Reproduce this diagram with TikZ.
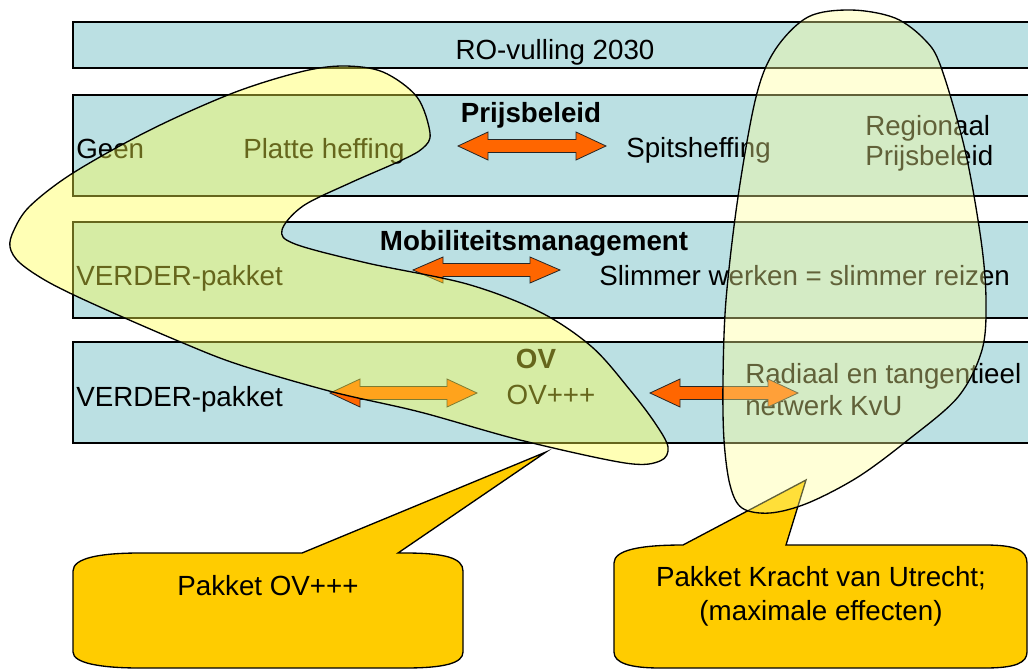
\documentclass[tikz,border=0pt]{standalone}
\usepackage{fontspec}
\setmainfont{Liberation Sans}
\definecolor{bandc}{RGB}{187,224,227}
\definecolor{arroworange}{RGB}{255,102,0}
\definecolor{calloutc}{RGB}{255,204,0}
\definecolor{blobc}{RGB}{255,255,70}
\definecolor{blobpale}{RGB}{255,255,150}
\tikzset{
 bandbox/.style={draw=black, line width=0.9pt, fill=bandc},
 lbl/.style={inner sep=0pt, font=\fontsize{20.8}{25}\selectfont},
 blbl/.style={inner sep=0pt, font=\fontsize{20.8}{25}\selectfont\bfseries},
 blockarr/.style={draw=black!85, line width=0.6pt, fill=arroworange, line join=miter},
 blobshape/.style={draw=black, line width=1pt, fill=blobc, fill opacity=0.4},
 blobshapepale/.style={draw=black, line width=1pt, fill=blobpale, fill opacity=0.38},
 calloutshape/.style={draw=black, line width=1pt, fill=calloutc, line join=miter}
}
\newcommand\dblarr[4]{%
 \draw[blockarr] (#1,#3) -- (#1+30,#3-#4) -- (#1+30,#3-6.5) -- (#2-30,#3-6.5) -- (#2-30,#3-#4) -- (#2,#3) -- (#2-30,#3+#4) -- (#2-30,#3+6.5) -- (#1+30,#3+6.5) -- (#1+30,#3+#4) -- cycle;}
\begin{document}
\begin{tikzpicture}[x=0.75pt,y=-0.75pt]
\useasboundingbox (0,0) rectangle (1028,668);
\clip (0,0) rectangle (1028,668);
\fill[white] (0,0) rectangle (1028,668);

% bands
\draw[bandbox] (73,22) rectangle (1040,68);
\draw[bandbox] (73,95) rectangle (1040,196);
\draw[bandbox] (73,222) rectangle (1040,318);
\draw[bandbox] (73,342) rectangle (1040,443);

% texts
\node[lbl, anchor=base] (ro) at (555,59) {RO-vulling 2030};
\node[blbl, anchor=base] (prijs) at (531,122) {Prijsbeleid};
\node[lbl, anchor=base west] (geen) at (76,158) {Geen};
\node[lbl, anchor=base west] (platte) at (243,158) {Platte heffing};
\node[lbl, anchor=base west] (spits) at (626,157) {Spitsheffing};
\node[lbl, anchor=base west] (regio1) at (865,135) {Regionaal};
\node[lbl, anchor=base west] (regio2) at (865,165) {Prijsbeleid};
\node[blbl, anchor=base] (mob) at (534,250) {Mobiliteitsmanagement};
\node[lbl, anchor=base west] (verder1) at (76,285) {VERDER-pakket};
\node[lbl, anchor=base west] (slim) at (599,285) {Slimmer werken = slimmer reizen};
\node[blbl, anchor=base] (ov) at (536,368) {OV};
\node[lbl, anchor=base] (ovppp) at (551,404) {OV+++};
\node[lbl, anchor=base west] (verder2) at (76,406) {VERDER-pakket};
\node[lbl, anchor=base west] (rad1) at (745,383) {Radiaal en tangentieel};
\node[lbl, anchor=base west] (rad2) at (745,415) {netwerk KvU};

% arrows
\dblarr{458}{606}{146}{14}
\dblarr{413}{560}{270}{13}
\dblarr{330}{477}{393}{14}
\dblarr{650}{798}{393}{14}

% callouts
\draw[calloutshape] (73,571) .. controls (73,558) and (100,553) .. (140,553) -- (302,553) -- (546,452) -- (398,553) -- (405,553) .. controls (445,553) and (463,558) .. (463,571) -- (463,652) .. controls (463,663) and (445,668) .. (405,668) -- (140,668) .. controls (100,668) and (73,663) .. (73,652) -- cycle;
\node[lbl, anchor=base] (pk1) at (268,595) {Pakket OV+++};

\draw[calloutshape] (614,563) .. controls (614,550) and (640,545) .. (683,545) -- (806,480) -- (786,545) -- (985,545) .. controls (1015,545) and (1027,550) .. (1027,563) -- (1027,652) .. controls (1027,663) and (1015,668) .. (985,668) -- (660,668) .. controls (630,668) and (614,663) .. (614,652) -- cycle;
\node[lbl, anchor=base] (pk2a) at (821,586) {Pakket Kracht van Utrecht;};
\node[lbl, anchor=base] (pk2b) at (821,620) {(maximale effecten)};

% blobs
\draw[blobshape] plot[smooth cycle, tension=0.55] coordinates {
 (343,66) (383,72) (417,97) (430,133) (423,148) (400,161) (350,183) (303,206) (282,230) (295,244) (367,263) (467,284) (540,312) (592,347) (630,390) (655,423) (668,447) (660,461) (625,463) (520,440) (420,412) (333,392) (240,365) (183,343) (100,307) (50,283) (20,263) (10,247) (14,230) (30,206) (73,173) (150,130) (233,93) (300,72)};
\draw[blobshapepale] plot[smooth cycle, tension=0.55] coordinates {
 (851,10) (895,18) (925,40) (941,67) (965,150) (981,240) (986,300) (982,350) (958,397) (908,440) (858,477) (808,503) (770,513) (742,508) (730,485) (724,440) (723,380) (726,300) (738,197) (756,97) (775,50) (808,17)};
\end{tikzpicture}
\end{document}
